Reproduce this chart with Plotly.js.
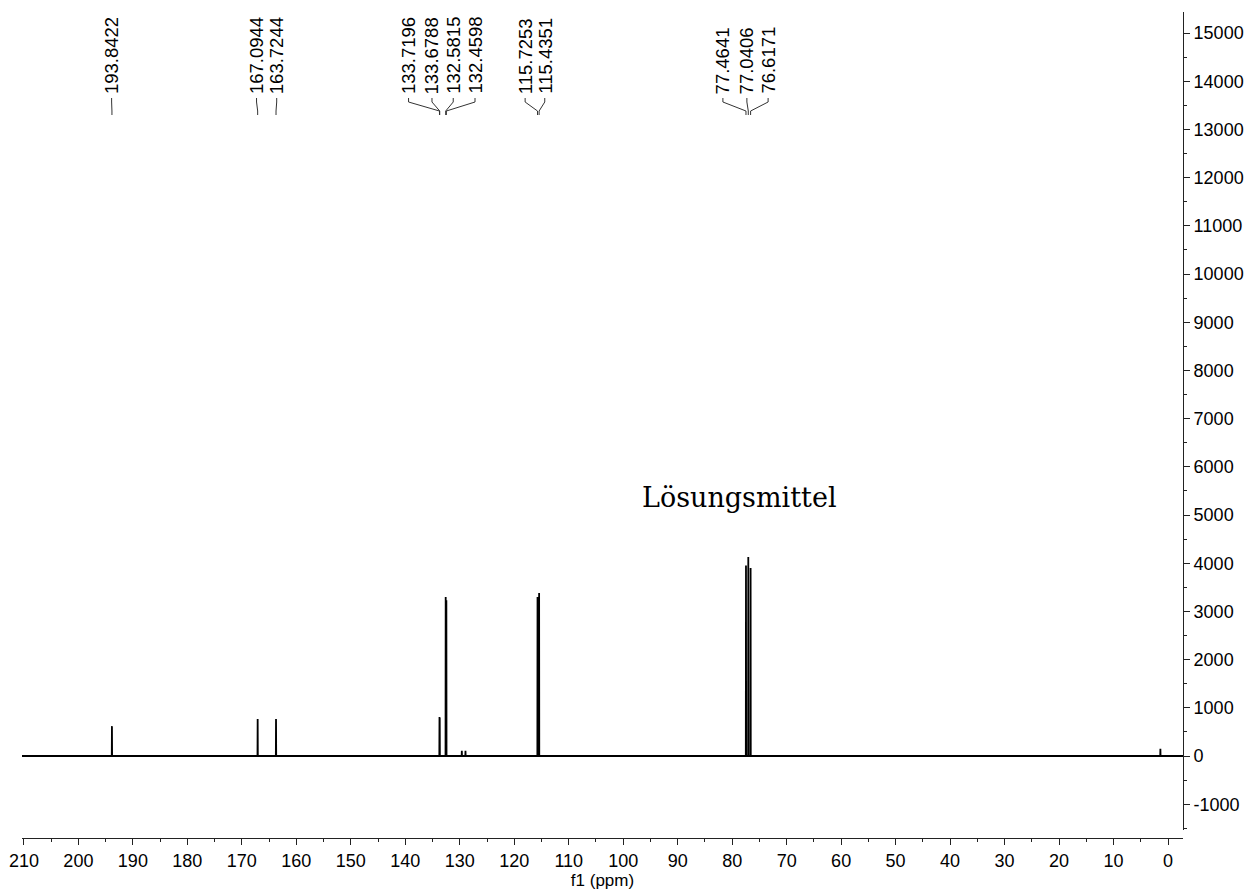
<!DOCTYPE html>
<html>
<head>
<meta charset="utf-8">
<script src="https://cdn.plot.ly/plotly-3.0.1.min.js"></script>
<style>html,body{margin:0;padding:0;background:#fff;}#chart{width:1250px;height:891px;}</style>
</head>
<body>
<div id="chart"></div>
<script>
// Peak list (ppm) and intensities
const peakPpm    = [193.8422, 167.0944, 163.7244, 133.7196, 133.6788, 132.5815, 132.4598, 129.62, 128.95, 115.7253, 115.4351, 77.4641, 77.0406, 76.6171, 1.40];
const peakHeight = [620, 770, 770, 810, 790, 3300, 3230, 110, 110, 3300, 3380, 3950, 4130, 3900, 150];

// Labelled peaks (values printed at the top)
const labelPpm = [193.8422, 167.0944, 163.7244, 133.7196, 133.6788, 132.5815, 132.4598, 115.7253, 115.4351, 77.4641, 77.0406, 76.6171];

// Axis ticks
const xTicks = [210,200,190,180,170,160,150,140,130,120,110,100,90,80,70,60,50,40,30,20,10,0];
const yTicks = [-1000,0,1000,2000,3000,4000,5000,6000,7000,8000,9000,10000,11000,12000,13000,14000,15000];

// Layout-only: where label texts sit (ppm units along the axis)
const labelPos = [193.9, 167.3, 163.6, 139.4, 135.1, 131.2, 127.2, 118.0, 114.4, 81.7, 77.3, 73.4];

const X_LEFT = 210.35, X_RIGHT = -2.75;
const W = 0.03;

// Build the stick spectrum trace from the peak list
const xs = [X_LEFT], ys = [0];
const order = peakPpm.map((p, i) => i).sort((a, b) => peakPpm[b] - peakPpm[a]);
order.forEach(i => {
  xs.push(peakPpm[i] + W, peakPpm[i], peakPpm[i] - W);
  ys.push(0, peakHeight[i], 0);
});
xs.push(X_RIGHT); ys.push(0);

const PLOT_TOP = 12, PLOT_BOTTOM = 838, PLOT_H = PLOT_BOTTOM - PLOT_TOP;
const py = ypx => (PLOT_BOTTOM - ypx) / PLOT_H;

const font = {family: '"Liberation Sans", Arial, sans-serif', size: 18, color: '#000'};

const annotations = labelPpm.map((v, i) => ({
  x: labelPos[i], xref: 'x',
  y: py(95), yref: 'paper',
  text: v.toFixed(4),
  textangle: -90,
  xanchor: 'center', yanchor: 'bottom',
  showarrow: false,
  font: {family: font.family, size: 18.5, color: '#000'},
  borderpad: 0
}));
annotations.push({
  x: 78.6, xref: 'x', y: py(497), yref: 'paper',
  text: 'Lösungsmittel', showarrow: false,
  xanchor: 'center', yanchor: 'middle',
  font: {family: '"DejaVu Serif", "Liberation Serif", serif', size: 27, color: '#000'}
});

const shapes = labelPpm.map((v, i) => ({
  type: 'path', xref: 'x', yref: 'paper',
  path: `M ${labelPos[i]},${py(98)} L ${labelPos[i]},${py(102)} L ${v},${py(111)} L ${v},${py(115)}`,
  line: {color: '#333', width: 1}
}));

const trace = {
  x: xs, y: ys, type: 'scatter', mode: 'lines',
  line: {color: '#000', width: 1.8, simplify: false},
  hoverinfo: 'skip'
};

const layout = {
  width: 1250, height: 891,
  margin: {l: 22, r: 67, t: PLOT_TOP, b: 891 - PLOT_BOTTOM, pad: 0},
  paper_bgcolor: '#fff', plot_bgcolor: '#fff',
  showlegend: false,
  xaxis: {
    range: [X_LEFT, X_RIGHT],
    domain: [0, 1],
    anchor: 'free', position: 0,
    showgrid: false, zeroline: false,
    showline: true, linecolor: '#222', linewidth: 1,
    tickmode: 'array', tickvals: xTicks, ticktext: xTicks.map(String),
    ticks: 'outside', ticklen: 6, tickcolor: '#222', tickwidth: 1,
    minor: {dtick: 5, tick0: 0, ticks: 'outside', ticklen: 3, tickcolor: '#222', showgrid: false},
    tickfont: font,
    title: {text: 'f1 (ppm)', font: {family: font.family, size: 17, color: '#000'}, standoff: 2}
  },
  yaxis: {
    range: [-1535, 15436],
    domain: [py(830), 1],
    side: 'right', anchor: 'free', position: 1,
    showgrid: false, zeroline: false,
    showline: true, linecolor: '#222', linewidth: 1,
    tickmode: 'array', tickvals: yTicks, ticktext: yTicks.map(String),
    ticks: 'outside', ticklen: 6, tickcolor: '#222', tickwidth: 1,
    minor: {dtick: 500, tick0: 0, ticks: 'outside', ticklen: 3, tickcolor: '#222', showgrid: false},
    tickfont: font
  },
  annotations: annotations,
  shapes: shapes
};

Plotly.newPlot('chart', [trace], layout, {staticPlot: true, displayModeBar: false});
</script>
</body>
</html>
